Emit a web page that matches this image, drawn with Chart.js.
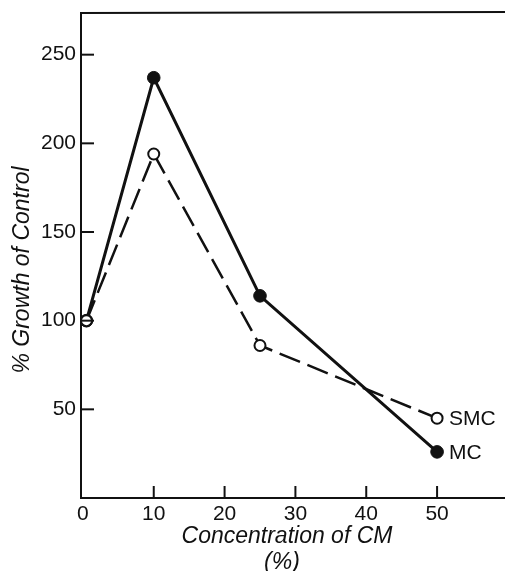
<!DOCTYPE html>
<html><head><meta charset="utf-8">
<script src="https://cdn.jsdelivr.net/npm/chart.js@4/dist/chart.umd.min.js"></script>
<style>html,body{margin:0;padding:0;background:#fff;overflow:hidden;}</style>
</head><body>
<canvas id="c" width="505" height="571" style="display:block;width:505px;height:571px"></canvas>
<script>
const concentrations = [0.5, 10, 25, 50];
const mcValues = [100, 237, 114, 26];
const smcValues = [100, 194, 86, 45];
const xTicks = [0, 10, 20, 30, 40, 50];
const yTicks = [50, 100, 150, 200, 250];
const seriesNames = ['MC', 'SMC'];
const xTitle = ['Concentration of CM', '(%)'];
const yTitle = '% Growth of Control';

const INK = '#111';
const FONT = "'Liberation Sans', Arial, Helvetica, sans-serif";

const pts = vals => concentrations.map((c, i) => ({x: c, y: vals[i]}));

const decor = {
  id: 'decor',
  afterDraw(chart) {
    const {ctx, chartArea: a, scales: {x, y}} = chart;
    ctx.save();
    ctx.strokeStyle = INK;
    ctx.lineWidth = 2;
    // top frame line and bottom axis continuation to the edge
    ctx.beginPath(); ctx.moveTo(a.left, a.top); ctx.lineTo(chart.width, a.top - 1); ctx.stroke();
    ctx.beginPath(); ctx.moveTo(a.right - 2, Math.round(a.bottom)); ctx.lineTo(chart.width, Math.round(a.bottom)); ctx.stroke();
    // inward ticks
    xTicks.forEach(v => {
      if (v === 0) return;
      const px = x.getPixelForValue(v);
      ctx.beginPath(); ctx.moveTo(px, a.bottom); ctx.lineTo(px, a.bottom - 12); ctx.stroke();
    });
    yTicks.forEach(v => {
      const py = y.getPixelForValue(v);
      ctx.beginPath(); ctx.moveTo(a.left, py); ctx.lineTo(a.left + 13, py); ctx.stroke();
    });
    // series labels
    ctx.fillStyle = INK;
    ctx.font = '21px ' + FONT;
    ctx.textBaseline = 'middle';
    ctx.textAlign = 'left';
    const lx = x.getPixelForValue(concentrations[3]) + 12;
    ctx.fillText(seriesNames[1], lx, y.getPixelForValue(smcValues[3]) + 1);
    ctx.fillText(seriesNames[0], lx, y.getPixelForValue(mcValues[3]) + 1);
    // axis titles
    ctx.font = 'italic 23px ' + FONT;
    ctx.textAlign = 'center';
    ctx.fillText(xTitle[0], 287, 537);
    ctx.fillText(xTitle[1], 282, 563);
    ctx.translate(23, 270);
    ctx.rotate(-Math.PI / 2);
    ctx.fillText(yTitle, 0, 0);
    ctx.restore();
  }
};

new Chart(document.getElementById('c'), {
  type: 'line',
  data: {
    datasets: [
      {
        label: seriesNames[1], data: pts(smcValues),
        borderColor: INK, borderWidth: 2.5, borderDash: [22, 8],
        pointRadius: 5.5, pointBorderWidth: 2, pointBorderColor: INK, pointBackgroundColor: '#fff',
        tension: 0, fill: false
      },
      {
        label: seriesNames[0], data: pts(mcValues),
        borderColor: INK, borderWidth: 3,
        pointRadius: 6.3, pointBorderWidth: 1, pointBorderColor: INK, pointBackgroundColor: INK,
        tension: 0, fill: false
      }
    ]
  },
  options: {
    responsive: false, animation: false, devicePixelRatio: 1,
    layout: {padding: {top: 13, right: 0, left: 0, bottom: 0}},
    plugins: {legend: {display: false}, tooltip: {enabled: false}},
    scales: {
      x: {
        type: 'linear', min: -0.27, max: 58.53,
        afterBuildTicks: s => { s.ticks = xTicks.map(v => ({value: v})); },
        afterFit: s => { s.height = 73; s.paddingLeft = 0; s.paddingRight = 0; },
        grid: {display: true, drawOnChartArea: false, drawTicks: false},
        border: {display: true, color: INK, width: 2},
        ticks: {color: INK, font: {family: FONT, size: 21}, padding: 4, maxRotation: 0, autoSkip: false}
      },
      y: {
        type: 'linear', min: 0, max: 273.5,
        afterBuildTicks: s => { s.ticks = yTicks.map(v => ({value: v})); },
        afterFit: s => { s.width = 81; s.paddingTop = 0; s.paddingBottom = 0; },
        grid: {display: true, drawOnChartArea: false, drawTicks: false},
        border: {display: true, color: INK, width: 2},
        ticks: {color: INK, font: {family: FONT, size: 21}, padding: 5, autoSkip: false}
      }
    }
  },
  plugins: [decor]
});
</script>
</body></html>
